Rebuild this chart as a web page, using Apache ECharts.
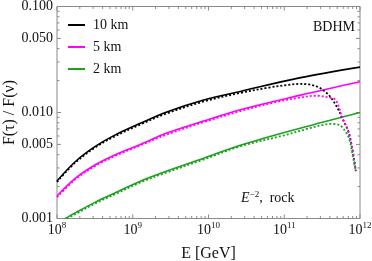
<!DOCTYPE html>
<html>
<head>
<meta charset="utf-8">
<script src="https://cdn.jsdelivr.net/npm/echarts@6/dist/echarts.min.js"></script>
<style>
  html, body { margin: 0; padding: 0; background: #fff; }
  #chart { width: 372px; height: 261px; }
</style>
</head>
<body>
<div id="chart"></div>
<script>
// log10(E/GeV) and F(tau)/F(nu)
var e10 = [8.0, 8.24, 8.5, 8.77, 9.1, 9.45, 9.935, 10.42, 11.2, 12.0];
var f10 = [0.00226, 0.00343, 0.00476, 0.00615, 0.0079, 0.0101, 0.0131, 0.0158, 0.0212, 0.0268];
var e10d = [8.0, 8.24, 8.5, 8.77, 9.1, 9.45, 9.935, 10.42, 10.8, 11.05, 11.2, 11.33, 11.43, 11.5, 11.6, 11.71, 11.76, 11.84, 11.89, 11.945];
var f10d = [0.00222, 0.00336, 0.00466, 0.0060, 0.0077, 0.0098, 0.0127, 0.0153, 0.0172, 0.0182, 0.0186, 0.0184, 0.0176, 0.0165, 0.0143, 0.0108, 0.0090, 0.0068, 0.0049, 0.0028];

var e5 = [8.0, 8.24, 8.5, 8.77, 9.1, 9.45, 9.935, 10.42, 11.2, 12.0];
var f5 = [0.00163, 0.00239, 0.0032, 0.0040, 0.0050, 0.0064, 0.0083, 0.0106, 0.0145, 0.0195];
var e5d = [8.0, 8.24, 8.5, 8.77, 9.1, 9.45, 9.935, 10.42, 10.9, 11.2, 11.43, 11.6, 11.67, 11.72, 11.76, 11.84, 11.89, 11.945];
var f5d = [0.00159, 0.00233, 0.00312, 0.0039, 0.0049, 0.0062, 0.0081, 0.0103, 0.0126, 0.0138, 0.0144, 0.0138, 0.0133, 0.0114, 0.0091, 0.0068, 0.0049, 0.0028];

var e2 = [8.11, 8.24, 8.5, 8.77, 9.1, 9.45, 9.935, 10.42, 11.21, 12.0];
var f2 = [0.0010, 0.00113, 0.00142, 0.00175, 0.00225, 0.0028, 0.0037, 0.0049, 0.0071, 0.0100];
var e2d = [8.13, 8.24, 8.5, 8.77, 9.1, 9.45, 9.935, 10.42, 11.0, 11.3, 11.5, 11.6, 11.73, 11.82, 11.865, 11.91, 11.945];
var f2d = [0.0010, 0.00110, 0.00138, 0.0017, 0.00219, 0.00272, 0.0036, 0.0048, 0.0061, 0.0070, 0.0076, 0.0078, 0.0076, 0.0064, 0.0054, 0.0037, 0.0028];

var xDecades = [8, 9, 10, 11, 12];
var yLabels = [0.001, 0.005, 0.01, 0.05, 0.1];
var yMinor = [0.002, 0.003, 0.004, 0.006, 0.007, 0.008, 0.009, 0.02, 0.03, 0.04, 0.06, 0.07, 0.08, 0.09];

var serif = "'Liberation Serif', 'DejaVu Serif', serif";
var frame = '#8a8a8a';

function pts(xs, ys) {
    return xs.map(function (x, i) { return [x, Math.log10(ys[i])]; });
}

// tick marks: [position, major?]
var xTicks = [];
xDecades.forEach(function (d) {
    xTicks.push([d, 1]);
    if (d < 12) {
        for (var k = 2; k <= 9; k++) xTicks.push([d + Math.log10(k), 0]);
    }
});
var yTicks = yLabels.map(function (v) { return [Math.log10(v), 1]; })
    .concat(yMinor.map(function (v) { return [Math.log10(v), 0]; }));

var chart = echarts.init(document.getElementById('chart'));

function tickLine(x1, y1, x2, y2) {
    return { type: 'line', shape: { x1: x1, y1: y1, x2: x2, y2: y2 }, style: { stroke: frame, lineWidth: 1 } };
}

function lineSeries(name, data, color, dotted) {
    return {
        name: name,
        type: 'line',
        data: data,
        showSymbol: false,
        smooth: 0.35,
        lineStyle: { color: color, width: dotted ? 1.8 : 1.6, type: dotted ? [2, 2] : 'solid' },
        itemStyle: { color: color },
        z: dotted ? 4 : 3
    };
}

var option = {
    animation: false,
    grid: {
        left: 57, right: 12, top: 6.5, bottom: 42.5,
        outerBoundsMode: 'none',
        show: true, borderColor: frame, borderWidth: 1, backgroundColor: 'transparent'
    },
    legend: {
        data: ['10 km', '5 km', '2 km'],
        orient: 'vertical',
        left: 63, top: 13,
        icon: 'rect',
        itemWidth: 17, itemHeight: 2, itemGap: 8,
        textStyle: { fontFamily: serif, fontSize: 14, color: '#111', padding: [0, 0, 0, 3] }
    },
    xAxis: {
        type: 'value', min: 8, max: 12, interval: 1,
        name: 'E [GeV]', nameLocation: 'middle', nameGap: 27, nameMoveOverlap: false,
        nameTextStyle: { fontFamily: serif, fontSize: 16, color: '#111' },
        axisLine: { show: false }, axisTick: { show: false }, splitLine: { show: false },
        axisLabel: {
            margin: 3,
            formatter: function (v) { return '{b|10}{s|' + v + '}'; },
            rich: {
                b: { fontFamily: serif, fontSize: 14, color: '#111' },
                s: { fontFamily: serif, fontSize: 9, color: '#111', padding: [0, 0, 8, 0] }
            }
        }
    },
    yAxis: {
        type: 'value', min: -3, max: -1,
        name: 'F(τ) / F(ν)', nameLocation: 'middle', nameGap: 39, nameRotate: 90, nameMoveOverlap: false,
        nameTextStyle: { fontFamily: serif, fontSize: 16, color: '#111' },
        axisLine: { show: false }, axisTick: { show: false }, splitLine: { show: false },
        axisLabel: {
            margin: 4,
            customValues: yLabels.map(function (v) { return Math.log10(v); }),
            fontFamily: serif, fontSize: 14, color: '#111',
            formatter: function (v) { return Math.pow(10, v).toFixed(3); }
        }
    },
    graphic: [
        { type: 'text', left: 313, top: 20, style: { text: 'BDHM', font: '14px ' + serif, fill: '#111' } },
        {
            type: 'text', left: 241, top: 190,
            style: {
                text: '{i|E}{s|−2}{n|,  rock}',
                rich: {
                    i: { fontFamily: serif, fontSize: 14, fontStyle: 'italic', fill: '#111' },
                    s: { fontFamily: serif, fontSize: 9, fill: '#111', padding: [0, 0, 8, 0] },
                    n: { fontFamily: serif, fontSize: 14, fill: '#111' }
                }
            }
        }
    ],
    series: [
        lineSeries('10 km', pts(e10, f10), '#000000', false),
        lineSeries('5 km', pts(e5, f5), '#ff00ff', false),
        lineSeries('2 km', pts(e2, f2), '#1fa01f', false),
        lineSeries('10 km dotted', pts(e10d, f10d), '#000000', true),
        lineSeries('5 km dotted', pts(e5d, f5d), '#ff00ff', true),
        lineSeries('2 km dotted', pts(e2d, f2d), '#1fa01f', true),
        {
            type: 'custom', silent: true, clip: false, data: xTicks,
            renderItem: function (params, api) {
                var len = api.value(1) ? 4 : 2.5;
                var b = api.coord([api.value(0), -3]);
                var t = api.coord([api.value(0), -1]);
                return { type: 'group', children: [
                    tickLine(b[0], b[1], b[0], b[1] - len),
                    tickLine(t[0], t[1], t[0], t[1] + len)
                ] };
            }
        },
        {
            type: 'custom', silent: true, clip: false,
            data: yTicks.map(function (d) { return [8, d[0], d[1]]; }),
            renderItem: function (params, api) {
                var len = api.value(2) ? 4 : 2.5;
                var l = api.coord([8, api.value(1)]);
                var r = api.coord([12, api.value(1)]);
                return { type: 'group', children: [
                    tickLine(l[0], l[1], l[0] + len, l[1]),
                    tickLine(r[0], r[1], r[0] - len, r[1])
                ] };
            }
        }
    ]
};

chart.setOption(option);
</script>
</body>
</html>
